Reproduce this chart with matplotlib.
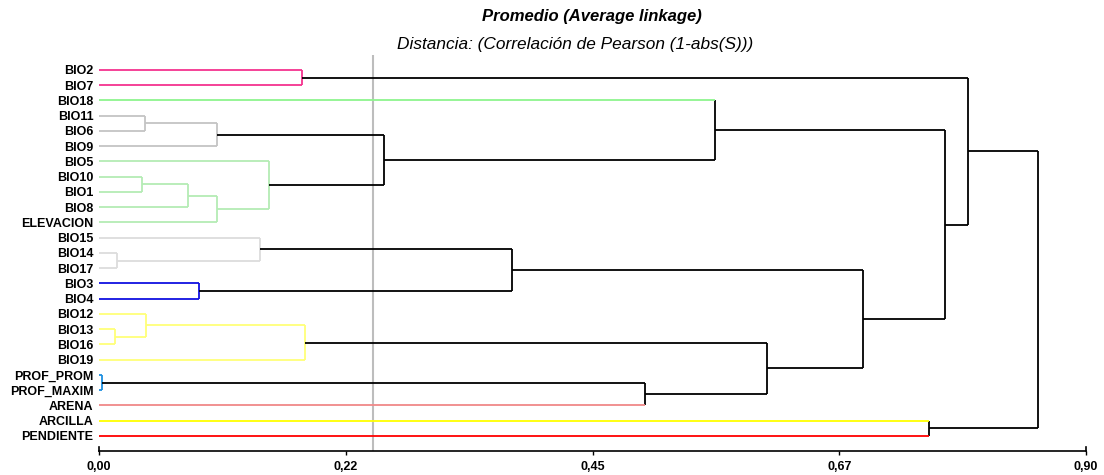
import matplotlib
matplotlib.use("Agg")
import matplotlib.pyplot as plt
import matplotlib.transforms as mtransforms

plt.rcParams['font.family'] = ['Liberation Sans', 'DejaVu Sans']

# leaves in display order (top to bottom)
labels = ["BIO2", "BIO7", "BIO18", "BIO11", "BIO6", "BIO9", "BIO5", "BIO10",
          "BIO1", "BIO8", "ELEVACION", "BIO15", "BIO14", "BIO17", "BIO3", "BIO4",
          "BIO12", "BIO13", "BIO16", "BIO19", "PROF_PROM", "PROF_MAXIM",
          "ARENA", "ARCILLA", "PENDIENTE"]

# merges: (child a, child b, distance); new node ids start at len(labels)
merges = [(20, 21, 0.003), (17, 18, 0.015), (12, 13, 0.016), (7, 8, 0.039),
          (3, 4, 0.042), (16, 26, 0.043), (28, 9, 0.081), (14, 15, 0.091),
          (29, 5, 0.108), (31, 10, 0.108), (11, 27, 0.147), (6, 34, 0.155),
          (0, 1, 0.185), (30, 19, 0.188), (33, 36, 0.260), (35, 32, 0.377),
          (25, 22, 0.498), (2, 39, 0.562), (38, 41, 0.609), (40, 43, 0.697),
          (23, 24, 0.757), (42, 44, 0.771), (37, 46, 0.792), (47, 45, 0.856)]

cut_value = 0.25
xticks = [0.0, 0.225, 0.45, 0.675, 0.90]
xtick_labels = ["0,00", "0,22", "0,45", "0,67", "0,90"]

leaf_colors = ['#f5338f', '#f5338f', '#8ef58e', '#c4c4c4', '#c4c4c4', '#c4c4c4',
               '#b4ecb4', '#b4ecb4', '#b4ecb4', '#b4ecb4', '#b4ecb4',
               '#dcdcdc', '#dcdcdc', '#dcdcdc', '#1010e0', '#1010e0',
               '#ffff78', '#ffff78', '#ffff78', '#ffff78', '#1e90e0', '#1e90e0',
               '#f08888', '#ffff00', '#ff0000']

n = len(labels)
ypos = {i: float(i) for i in range(n)}
height = {i: 0.0 for i in range(n)}
color = {i: leaf_colors[i] for i in range(n)}
for k, (a, b, d) in enumerate(merges):
    node = n + k
    ypos[node] = (ypos[a] + ypos[b]) / 2
    height[node] = d
    color[node] = color[a] if (color[a] == color[b] and color[a] is not None) else None

fig = plt.figure(figsize=(11.04, 4.75), dpi=100)
ax = fig.add_axes([99 / 1104, 1 - 451 / 475, (1086 - 99) / 1104, (451 - 55) / 475])

lw = 1.3
for k, (a, b, d) in enumerate(merges):
    node = n + k
    nc = color[node]
    vc = nc if nc else 'black'
    ax.plot([d, d], [ypos[a], ypos[b]], color=vc, lw=lw, solid_capstyle='butt', zorder=3)
    for c in (a, b):
        if nc:
            hc = nc
        elif c < n:
            hc = color[c]
        else:
            hc = 'black'
        ax.plot([height[c], d], [ypos[c], ypos[c]], color=hc, lw=lw,
                solid_capstyle='butt', zorder=3)

ax.axvline(cut_value, color='#bdbdbd', lw=1.5, zorder=1)

ax.set_xlim(0, 0.90)
ax.set_ylim(n - 1 + 0.99, -0.98)

ax.set_yticks(range(n))
ax.set_yticklabels(labels, fontsize=9, fontweight='bold')
ax.tick_params(axis='y', length=0, pad=4)

ax.set_xticks(xticks)
ax.set_xticklabels(xtick_labels, fontsize=9, fontweight='bold')
ax.tick_params(axis='x', length=3, width=1, direction='out', pad=4)

for s in ['top', 'right', 'left']:
    ax.spines[s].set_visible(False)
ax.spines['bottom'].set_linewidth(1.2)

# little end caps on the axis line
trans = mtransforms.blended_transform_factory(ax.transData, ax.transAxes)
for xv in (xticks[0], xticks[-1]):
    ax.plot([xv, xv], [0, 0.011], color='black', lw=1.2, transform=trans, clip_on=False)

fig.text(592 / 1104, 1 - 17 / 475, "Promedio (Average linkage)", ha='center', va='center',
         fontsize=12, fontweight='bold', fontstyle='italic')
fig.text(575 / 1104, 1 - 44 / 475, "Distancia: (Correlación de Pearson (1-abs(S)))",
         ha='center', va='center', fontsize=12.4, fontstyle='italic')

fig.savefig("out.png", dpi=100)
